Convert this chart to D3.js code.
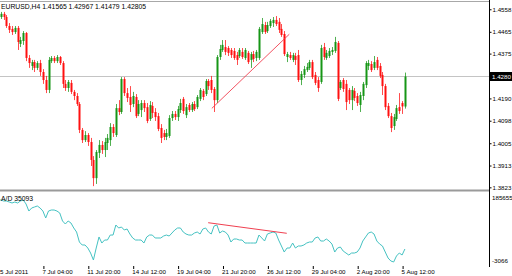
<!DOCTYPE html>
<html>
<head>
<meta charset="utf-8">
<script src="https://cdn.jsdelivr.net/npm/d3@7"></script>
<style>
  html, body { margin: 0; padding: 0; background: #fff; }
  svg { display: block; font-family: "Liberation Sans", Arial, sans-serif; }
</style>
</head>
<body>
<div id="chart"></div>
<script>
// EURUSD H4 candles with the Accumulation/Distribution indicator below

const symbolTitle = "EURUSD,H4";
const lastQuote = ["1.41565", "1.42967", "1.41479", "1.42805"];
const lastPriceLabel = "1.4280";

const timeLabels = ["5 Jul 2011", "7 Jul 04:00", "11 Jul 20:00", "14 Jul 12:00", "19 Jul 04:00",
  "21 Jul 20:00", "26 Jul 12:00", "29 Jul 04:00", "2 Aug 20:00", "5 Aug 12:00"];
const timeTickBars = [0, 16, 32, 48, 64, 80, 96, 112, 128, 144];

const priceTicks = [1.4558, 1.4465, 1.4375, 1.4190, 1.4098, 1.4005, 1.3913, 1.3823];

// one row per H4 bar: open, high, low, close
const ohlc = [
  [1.4506, 1.4539, 1.4497, 1.4530], [1.4526, 1.4547, 1.4518, 1.4539], [1.4539, 1.4547, 1.4514, 1.4526],
  [1.4526, 1.4534, 1.4481, 1.4489], [1.4489, 1.4501, 1.4460, 1.4473], [1.4477, 1.4489, 1.4452, 1.4464],
  [1.4464, 1.4489, 1.4456, 1.4481], [1.4481, 1.4489, 1.4390, 1.4423], [1.4415, 1.4444, 1.4402, 1.4431],
  [1.4427, 1.4468, 1.4411, 1.4460], [1.4460, 1.4464, 1.4344, 1.4357], [1.4357, 1.4369, 1.4316, 1.4336],
  [1.4324, 1.4349, 1.4307, 1.4340], [1.4340, 1.4349, 1.4299, 1.4316], [1.4316, 1.4344, 1.4307, 1.4336],
  [1.4336, 1.4349, 1.4283, 1.4299], [1.4299, 1.4311, 1.4250, 1.4266], [1.4266, 1.4283, 1.4212, 1.4225],
  [1.4225, 1.4361, 1.4212, 1.4349], [1.4344, 1.4365, 1.4336, 1.4357], [1.4357, 1.4365, 1.4336, 1.4344],
  [1.4344, 1.4369, 1.4336, 1.4361], [1.4361, 1.4365, 1.4328, 1.4336], [1.4336, 1.4344, 1.4233, 1.4250],
  [1.4250, 1.4266, 1.4221, 1.4233], [1.4233, 1.4266, 1.4217, 1.4258], [1.4254, 1.4266, 1.4208, 1.4217],
  [1.4217, 1.4225, 1.4183, 1.4200], [1.4200, 1.4212, 1.4159, 1.4167], [1.4167, 1.4175, 1.4047, 1.4060],
  [1.4060, 1.4068, 1.4006, 1.4018], [1.4018, 1.4055, 1.4010, 1.4039], [1.4039, 1.4047, 1.3994, 1.4010],
  [1.4010, 1.4027, 1.3911, 1.3936], [1.3936, 1.3952, 1.3828, 1.3861], [1.3861, 1.3977, 1.3837, 1.3969],
  [1.3965, 1.4018, 1.3944, 1.3998], [1.3998, 1.4014, 1.3961, 1.3977], [1.3977, 1.4027, 1.3948, 1.4010],
  [1.4006, 1.4043, 1.3977, 1.4027], [1.4018, 1.4088, 1.3994, 1.4072], [1.4072, 1.4084, 1.4031, 1.4047],
  [1.4039, 1.4167, 1.4031, 1.4150], [1.4150, 1.4183, 1.4121, 1.4134], [1.4134, 1.4278, 1.4126, 1.4270],
  [1.4270, 1.4278, 1.4200, 1.4212], [1.4212, 1.4233, 1.4175, 1.4192], [1.4196, 1.4241, 1.4134, 1.4163],
  [1.4167, 1.4217, 1.4154, 1.4200], [1.4196, 1.4208, 1.4109, 1.4117], [1.4126, 1.4183, 1.4117, 1.4167],
  [1.4142, 1.4183, 1.4113, 1.4171], [1.4171, 1.4183, 1.4134, 1.4150], [1.4154, 1.4171, 1.4088, 1.4097],
  [1.4105, 1.4179, 1.4097, 1.4163], [1.4159, 1.4175, 1.4109, 1.4130], [1.4134, 1.4150, 1.4097, 1.4113],
  [1.4117, 1.4130, 1.4055, 1.4064], [1.4068, 1.4084, 1.4006, 1.4027], [1.4047, 1.4060, 1.4018, 1.4031],
  [1.4031, 1.4064, 1.4018, 1.4047], [1.4035, 1.4121, 1.4027, 1.4109], [1.4109, 1.4138, 1.4097, 1.4126],
  [1.4126, 1.4138, 1.4101, 1.4113], [1.4113, 1.4159, 1.4097, 1.4146], [1.4142, 1.4188, 1.4130, 1.4171],
  [1.4188, 1.4196, 1.4126, 1.4138], [1.4121, 1.4167, 1.4109, 1.4154], [1.4163, 1.4171, 1.4134, 1.4142],
  [1.4142, 1.4175, 1.4134, 1.4167], [1.4167, 1.4179, 1.4138, 1.4146], [1.4154, 1.4204, 1.4146, 1.4196],
  [1.4188, 1.4233, 1.4179, 1.4225], [1.4221, 1.4229, 1.4183, 1.4196], [1.4208, 1.4270, 1.4200, 1.4262],
  [1.4262, 1.4270, 1.4225, 1.4241], [1.4266, 1.4283, 1.4212, 1.4225], [1.4229, 1.4237, 1.4134, 1.4183],
  [1.4183, 1.4369, 1.4171, 1.4361], [1.4361, 1.4411, 1.4349, 1.4394], [1.4390, 1.4431, 1.4382, 1.4411],
  [1.4402, 1.4431, 1.4369, 1.4382], [1.4398, 1.4406, 1.4365, 1.4378], [1.4390, 1.4398, 1.4357, 1.4369],
  [1.4386, 1.4398, 1.4349, 1.4357], [1.4369, 1.4382, 1.4328, 1.4349], [1.4365, 1.4398, 1.4357, 1.4390],
  [1.4382, 1.4398, 1.4353, 1.4361], [1.4357, 1.4398, 1.4349, 1.4390], [1.4378, 1.4386, 1.4332, 1.4340],
  [1.4349, 1.4382, 1.4316, 1.4373], [1.4373, 1.4386, 1.4340, 1.4353], [1.4357, 1.4390, 1.4344, 1.4382],
  [1.4357, 1.4485, 1.4349, 1.4477], [1.4464, 1.4522, 1.4456, 1.4497], [1.4493, 1.4506, 1.4456, 1.4464],
  [1.4468, 1.4506, 1.4460, 1.4493], [1.4489, 1.4518, 1.4481, 1.4510], [1.4501, 1.4526, 1.4485, 1.4514],
  [1.4514, 1.4530, 1.4489, 1.4497], [1.4506, 1.4522, 1.4460, 1.4473], [1.4477, 1.4497, 1.4444, 1.4452],
  [1.4456, 1.4468, 1.4365, 1.4373], [1.4361, 1.4382, 1.4340, 1.4373], [1.4369, 1.4382, 1.4349, 1.4357],
  [1.4349, 1.4378, 1.4340, 1.4369], [1.4365, 1.4378, 1.4328, 1.4349], [1.4369, 1.4390, 1.4258, 1.4266],
  [1.4266, 1.4303, 1.4245, 1.4291], [1.4287, 1.4324, 1.4274, 1.4311], [1.4307, 1.4336, 1.4299, 1.4320],
  [1.4316, 1.4349, 1.4307, 1.4340], [1.4340, 1.4349, 1.4270, 1.4278], [1.4287, 1.4299, 1.4245, 1.4254],
  [1.4266, 1.4278, 1.4217, 1.4233], [1.4258, 1.4411, 1.4250, 1.4398], [1.4402, 1.4419, 1.4349, 1.4361],
  [1.4357, 1.4390, 1.4349, 1.4378], [1.4365, 1.4398, 1.4357, 1.4386], [1.4382, 1.4402, 1.4369, 1.4390],
  [1.4386, 1.4444, 1.4378, 1.4423], [1.4419, 1.4427, 1.4179, 1.4188], [1.4233, 1.4266, 1.4225, 1.4258],
  [1.4266, 1.4274, 1.4217, 1.4229], [1.4250, 1.4266, 1.4142, 1.4175], [1.4225, 1.4233, 1.4167, 1.4183],
  [1.4183, 1.4241, 1.4142, 1.4225], [1.4221, 1.4233, 1.4179, 1.4192], [1.4200, 1.4212, 1.4159, 1.4171],
  [1.4163, 1.4217, 1.4134, 1.4204], [1.4200, 1.4258, 1.4183, 1.4250], [1.4245, 1.4344, 1.4233, 1.4336],
  [1.4324, 1.4349, 1.4307, 1.4336], [1.4332, 1.4344, 1.4299, 1.4307], [1.4316, 1.4365, 1.4307, 1.4340],
  [1.4349, 1.4361, 1.4307, 1.4316], [1.4324, 1.4336, 1.4274, 1.4283], [1.4287, 1.4299, 1.4204, 1.4241],
  [1.4241, 1.4250, 1.4142, 1.4154], [1.4159, 1.4171, 1.4109, 1.4117], [1.4117, 1.4130, 1.4051, 1.4068],
  [1.4076, 1.4126, 1.4060, 1.4113], [1.4105, 1.4163, 1.4097, 1.4150], [1.4154, 1.4212, 1.4126, 1.4138],
  [1.4171, 1.4179, 1.4126, 1.4157], [1.41565, 1.42967, 1.41479, 1.42805]
];

// Accumulation/Distribution value per bar
const adValues = [
  171700, 171700, 168900, 168900, 166100, 163400, 166100, 163400, 168900, 171700,
  160600, 141000, 149400, 152200, 155000, 149400, 141000, 121500, 141000, 143800,
  143800, 141000, 135500, 113200, 104800, 113200, 107600, 93700, 82500, 54600,
  46300, 46300, 37900, 23900, 4400, 37900, 68600, 51800, 60200, 60200,
  74100, 74100, 102000, 93700, 96400, 88100, 90900, 76900, 65800, 60200,
  60200, 60200, 51800, 68600, 74100, 74100, 65800, 65800, 65800, 71300,
  74100, 71300, 79700, 88100, 93700, 93700, 82500, 76900, 74100, 74100,
  79700, 82500, 76900, 90900, 93700, 82500, 76900, 99200, 102000, 79700,
  85300, 82500, 74100, 54600, 63000, 63000, 60200, 60200, 51800, 51800,
  51800, 51800, 51800, 74100, 65800, 57400, 76900, 79700, 82500, 79700,
  60200, 43500, 26700, 37900, 37900, 51800, 37900, 43500, 43500, 46300,
  51800, 54600, 54600, 65800, 68600, 57400, 57400, 63000, 57400, 49000,
  26700, 37900, 40700, 29500, 23900, 18400, 23900, 23900, 26700, 37900,
  57400, 68600, 79700, 82500, 76900, 57400, 49000, 43500, 26700, 10000,
  1700, -1100, 15600, 23900, 18400, 35093
];
const adTitle = "A/D 35093";
const adScaleLabels = ["185655", "-3066"];
const adScaleValues = [185655, -3900];

// hand-drawn trendlines: [bar, value]
const priceTrend = [[76.2, 1.4149], [103.8, 1.4455]];
const adTrend = [[74.9, 108400], [102.9, 78900]];

const width = 512, height = 276;
const axisX = 489;
const upColor = "#169616", downColor = "#ff1010";
const labelSize = "6.2px";

const svg = d3.select("#chart").append("svg")
  .attr("width", width)
  .attr("height", height)
  .attr("viewBox", `0 0 ${width} ${height}`);

const x = d3.scaleLinear().domain([0, ohlc.length - 1]).range([-2, 404.9]);
const y = d3.scaleLinear().domain([1.3812, 1.4588]).range([190, 2]);
const yAd = d3.scaleLinear().domain([adScaleValues[1], adScaleValues[0]]).range([263, 195]);

// frame
svg.append("line").attr("x1", 0).attr("x2", axisX).attr("y1", 1.5).attr("y2", 1.5)
  .attr("stroke", "#a8a8a8");
svg.append("line").attr("x1", 0).attr("x2", axisX).attr("y1", 190.5).attr("y2", 190.5)
  .attr("stroke", "#9a9a9a").attr("stroke-width", 2);
svg.append("line").attr("x1", axisX + 0.5).attr("x2", axisX + 0.5).attr("y1", 0).attr("y2", 267)
  .attr("stroke", "#000");

// current price line
const last = ohlc[ohlc.length - 1];
svg.append("line")
  .attr("x1", 0).attr("x2", axisX)
  .attr("y1", Math.round(y(last[3])) + 0.5).attr("y2", Math.round(y(last[3])) + 0.5)
  .attr("stroke", "#c4c4c4");

// candles
const candles = svg.append("g");
candles.selectAll("line.wick")
  .data(ohlc)
  .enter()
  .append("line")
  .attr("class", "wick")
  .attr("x1", (d, i) => Math.round(x(i)) + 0.5)
  .attr("x2", (d, i) => Math.round(x(i)) + 0.5)
  .attr("y1", d => y(d[1]))
  .attr("y2", d => y(d[2]))
  .attr("stroke", d => d[3] >= d[0] ? upColor : downColor)
  .attr("stroke-opacity", 0.75);

candles.selectAll("rect.body")
  .data(ohlc)
  .enter()
  .append("rect")
  .attr("class", "body")
  .attr("x", (d, i) => Math.round(x(i)) - 0.5)
  .attr("width", 2)
  .attr("y", d => y(Math.max(d[0], d[3])))
  .attr("height", d => Math.max(1, Math.abs(y(d[0]) - y(d[3]))))
  .attr("fill", d => d[3] >= d[0] ? upColor : downColor);

// price trendline
svg.append("line")
  .attr("x1", x(priceTrend[0][0])).attr("y1", y(priceTrend[0][1]))
  .attr("x2", x(priceTrend[1][0])).attr("y2", y(priceTrend[1][1]))
  .attr("stroke", "#f04050").attr("stroke-width", 0.9);

// price axis
const yAxis = svg.append("g")
  .attr("transform", `translate(${axisX + 0.5},0)`)
  .call(d3.axisRight(y).tickValues(priceTicks).tickSize(2).tickPadding(1).tickFormat(d3.format(".4f")));
yAxis.select(".domain").remove();
yAxis.selectAll("text").style("font-size", labelSize).attr("fill", "#000");

// current price label
svg.append("rect")
  .attr("x", axisX + 1).attr("y", y(last[3]) - 4.5)
  .attr("width", width - axisX - 1).attr("height", 9)
  .attr("fill", "#000");
svg.append("text")
  .attr("x", axisX + 3).attr("y", y(last[3]))
  .attr("dy", "0.35em")
  .attr("fill", "#fff")
  .style("font-size", labelSize)
  .text(lastPriceLabel);

// title
svg.append("text")
  .attr("x", 1).attr("y", 7)
  .attr("dy", "0.35em")
  .style("font-size", "6.8px")
  .text(symbolTitle + "  " + lastQuote.join(" "));

// A/D line
const adLine = d3.line()
  .x((d, i) => x(i))
  .y(d => yAd(d));

svg.append("path")
  .datum(adValues)
  .attr("fill", "none")
  .attr("stroke", "#45c2c2")
  .attr("stroke-width", 1)
  .attr("d", adLine);

svg.append("line")
  .attr("x1", x(adTrend[0][0])).attr("y1", yAd(adTrend[0][1]))
  .attr("x2", x(adTrend[1][0])).attr("y2", yAd(adTrend[1][1]))
  .attr("stroke", "#f04050").attr("stroke-width", 1);

svg.append("text")
  .attr("x", 1).attr("y", 199)
  .attr("dy", "0.35em")
  .style("font-size", "6.8px")
  .text(adTitle);

svg.selectAll("text.adscale")
  .data(adScaleLabels)
  .enter()
  .append("text")
  .attr("class", "adscale")
  .attr("x", axisX + 3)
  .attr("y", (d, i) => i === 0 ? 198 : 261)
  .attr("dy", "0.35em")
  .style("font-size", labelSize)
  .text(d => d);

// time axis
const xAxis = svg.append("g")
  .attr("transform", "translate(0.5,266)")
  .call(d3.axisBottom(x).tickValues(timeTickBars).tickSize(3).tickPadding(1)
    .tickFormat((d, i) => timeLabels[i]));
xAxis.select(".domain").remove();
xAxis.selectAll("text")
  .attr("text-anchor", "start")
  .attr("dx", (d, i) => i === 0 ? 1 : -1.5)
  .style("font-size", labelSize)
  .attr("fill", "#000");
</script>
</body>
</html>
